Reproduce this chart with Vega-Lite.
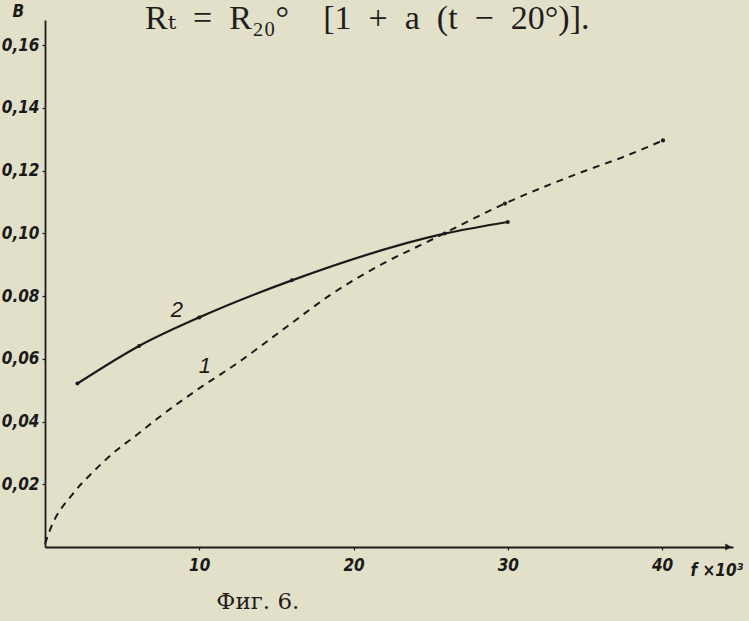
{
  "$schema": "https://vega.github.io/schema/vega-lite/v6.json",
  "width": 688,
  "height": 527,
  "autosize": "none",
  "padding": {"left": 45, "top": 20, "right": 16, "bottom": 74},
  "background": "#e3e0ca",
  "config": {
    "view": {"stroke": null},
    "axis": {
      "domainColor": "#1a1a1a",
      "domainWidth": 1.8,
      "tickColor": "#1a1a1a",
      "tickWidth": 1.2,
      "tickSize": 3,
      "grid": false,
      "labelColor": "#1a1a1a",
      "labelFont": "Liberation Sans Narrow, DejaVu Sans Condensed, Liberation Sans",
      "labelFontStyle": "italic",
      "labelFontWeight": "bold",
      "labelFontSize": 17,
      "titleColor": "#1a1a1a",
      "titleFont": "Liberation Sans Narrow, DejaVu Sans Condensed, Liberation Sans",
      "titleFontStyle": "italic",
      "titleFontWeight": "bold",
      "titleFontSize": 17
    }
  },
  "title": {
    "text": "Rₜ\u2002=\u2002R₂₀°\u2002\u2002[1\u2002+\u2002a\u2002(t\u2002−\u200220°)].",
    "anchor": "start",
    "frame": "group",
    "dx": 100,
    "offset": -61,
    "baseline": "alphabetic",
    "font": "Liberation Serif, DejaVu Serif",
    "fontSize": 34,
    "fontWeight": "normal",
    "color": "#1e1e1e"
  },
  "datasets": {
    "c1": [
      {"x": 0.0, "y": 0.001},
      {"x": 0.32, "y": 0.0054},
      {"x": 1.83, "y": 0.0171},
      {"x": 3.03, "y": 0.0235},
      {"x": 4.41, "y": 0.0299},
      {"x": 5.94, "y": 0.0357},
      {"x": 7.33, "y": 0.0411},
      {"x": 9.83, "y": 0.05},
      {"x": 12.43, "y": 0.0585},
      {"x": 15.67, "y": 0.0702},
      {"x": 18.48, "y": 0.0803},
      {"x": 21.93, "y": 0.0904},
      {"x": 24.75, "y": 0.0972},
      {"x": 29.82, "y": 0.1095},
      {"x": 35.12, "y": 0.1201},
      {"x": 37.47, "y": 0.1243},
      {"x": 40.06, "y": 0.1296}
    ],
    "c1dots": [
      {"x": 29.82, "y": 0.1095},
      {"x": 40.06, "y": 0.1296}
    ],
    "c2": [
      {"x": 2.1, "y": 0.0521},
      {"x": 6.1, "y": 0.0641},
      {"x": 10.0, "y": 0.0732},
      {"x": 16.0, "y": 0.085},
      {"x": 25.9, "y": 0.0999},
      {"x": 30.0, "y": 0.1036}
    ],
    "labels": [
      {"x": 8.55, "y": 0.0755, "text": "2"},
      {"x": 10.37, "y": 0.0576, "text": "1"}
    ],
    "caption": [
      {"x": 13.8, "y": -0.0175, "text": "Фиг. 6."}
    ],
    "arrow": [
      {"x": 44.3, "y": 0}
    ]
  },
  "layer": [
    {
      "data": {"name": "c1"},
      "mark": {"type": "line", "interpolate": "monotone", "color": "#1a1a1a", "strokeWidth": 2, "strokeDash": [7, 6]},
      "encoding": {
        "x": {
          "field": "x", "type": "quantitative",
          "scale": {"domain": [0, 44.6], "nice": false, "zero": false},
          "axis": {
            "values": [10, 20, 30, 40],
            "labelPadding": 7,
            "title": "f ×10³",
            "titleX": 645,
            "titleY": 28,
            "titleAlign": "left",
            "titleBaseline": "alphabetic"
          }
        },
        "y": {
          "field": "y", "type": "quantitative",
          "scale": {"domain": [0, 0.168], "nice": false, "zero": false},
          "axis": {
            "values": [0.02, 0.04, 0.06, 0.08, 0.1, 0.12, 0.14, 0.16],
            "labelExpr": "datum.value == 0.08 ? '0.08' : replace(format(datum.value, '.2f'), '.', ',')",
            "labelPadding": 3,
            "title": "В",
            "titleAngle": 0,
            "titleX": -33,
            "titleY": 0,
            "titleAlign": "left",
            "titleBaseline": "bottom"
          }
        }
      }
    },
    {
      "data": {"name": "c1dots"},
      "mark": {"type": "circle", "color": "#1a1a1a", "size": 18, "opacity": 1},
      "encoding": {
        "x": {"field": "x", "type": "quantitative"},
        "y": {"field": "y", "type": "quantitative"}
      }
    },
    {
      "data": {"name": "c2"},
      "mark": {"type": "line", "interpolate": "monotone", "color": "#1a1a1a", "strokeWidth": 2.2},
      "encoding": {
        "x": {"field": "x", "type": "quantitative"},
        "y": {"field": "y", "type": "quantitative"}
      }
    },
    {
      "data": {"name": "c2"},
      "mark": {"type": "circle", "color": "#1a1a1a", "size": 16, "opacity": 1},
      "encoding": {
        "x": {"field": "x", "type": "quantitative"},
        "y": {"field": "y", "type": "quantitative"}
      }
    },
    {
      "data": {"name": "labels"},
      "mark": {"type": "text", "font": "Liberation Sans, DejaVu Sans", "fontStyle": "italic", "fontSize": 22, "color": "#1a1a1a", "baseline": "middle", "align": "center"},
      "encoding": {
        "x": {"field": "x", "type": "quantitative"},
        "y": {"field": "y", "type": "quantitative"},
        "text": {"field": "text"}
      }
    },
    {
      "data": {"name": "caption"},
      "mark": {"type": "text", "font": "DejaVu Serif, Liberation Serif", "fontSize": 23, "color": "#1e1e1e", "baseline": "middle", "align": "center"},
      "encoding": {
        "x": {"field": "x", "type": "quantitative"},
        "y": {"field": "y", "type": "quantitative"},
        "text": {"field": "text"}
      }
    },
    {
      "data": {"name": "arrow"},
      "mark": {"type": "point", "shape": "triangle-right", "filled": true, "color": "#1a1a1a", "size": 50, "opacity": 1},
      "encoding": {
        "x": {"field": "x", "type": "quantitative"},
        "y": {"field": "y", "type": "quantitative"}
      }
    }
  ]
}
